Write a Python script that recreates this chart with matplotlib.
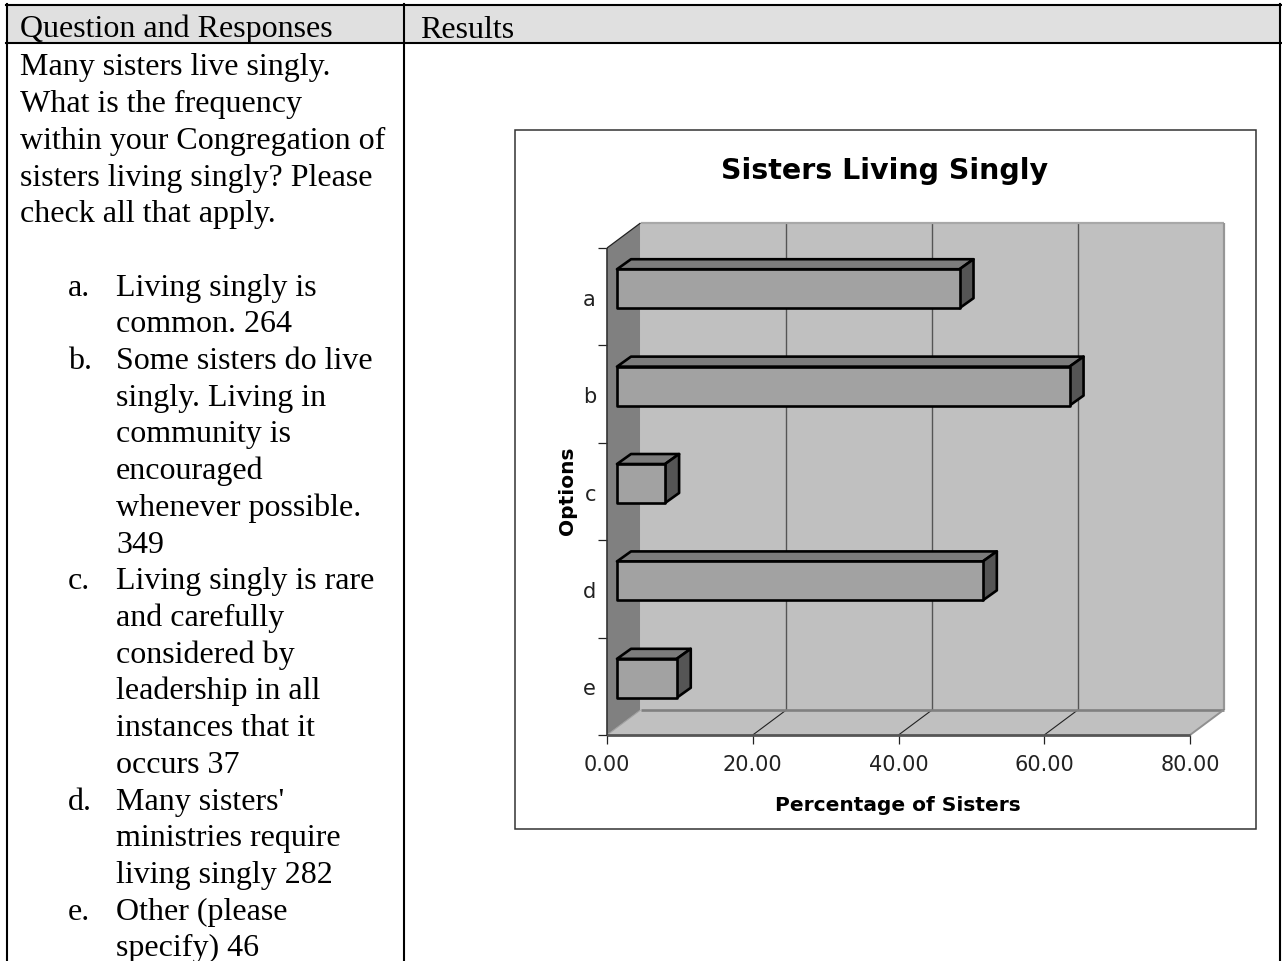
import matplotlib
matplotlib.use("Agg")
import matplotlib.pyplot as plt
from matplotlib.patches import Polygon, Rectangle
from matplotlib.lines import Line2D
from matplotlib.transforms import Affine2D, IdentityTransform

categories = ["a", "b", "c", "d", "e"]
values = [47.0, 62.1, 6.6, 50.2, 8.2]
x_ticks = [0, 20, 40, 60, 80]
x_tick_labels = ["0.00", "20.00", "40.00", "60.00", "80.00"]
title = "Sisters Living Singly"
xlabel = "Percentage of Sisters"
ylabel = "Options"
headers = ["Question and Responses", "Results"]
intro_lines = ["Many sisters live singly.", "What is the frequency",
               "within your Congregation of", "sisters living singly? Please",
               "check all that apply."]
responses = [("a.", ["Living singly is", "common. 264"]),
             ("b.", ["Some sisters do live", "singly. Living in", "community is",
                     "encouraged", "whenever possible.", "349"]),
             ("c.", ["Living singly is rare", "and carefully", "considered by",
                     "leadership in all", "instances that it", "occurs 37"]),
             ("d.", ["Many sisters'", "ministries require", "living singly 282"]),
             ("e.", ["Other (please", "specify) 46"])]

W, H = 1282, 962
fig = plt.figure(figsize=(W / 100, H / 100), dpi=100, facecolor="white")

def fx(x): return x / W
def fy(y): return 1 - y / H

def rect(x0, y0, x1, y1, **kw):
    fig.add_artist(Rectangle((fx(x0), fy(y1)), fx(x1 - x0), y1 / H - y0 / H,
                             transform=fig.transFigure, **kw))

def hline(x0, x1, y, c="black", lw=1.5):
    fig.add_artist(Line2D([fx(x0), fx(x1)], [fy(y), fy(y)], color=c, lw=lw))

def vline(x, y0, y1, c="black", lw=1.5):
    fig.add_artist(Line2D([fx(x), fx(x)], [fy(y0), fy(y1)], color=c, lw=lw))

# Table frame
rect(6, 6, 1280, 44, facecolor="#E0E0E0", edgecolor="none")
hline(5.5, 1281, 6)
hline(5.5, 1281, 44)
vline(6.5, 5, 962)
vline(404, 5, 962)
vline(1280, 5, 962)

serif = "Liberation Serif"
fs = 23
def para(x, y, s):
    fig.text(fx(x), fy(y), s, family=serif, fontsize=fs, color="black", va="baseline", ha="left")

para(20, 37.5, headers[0])
para(420, 37.5, headers[1])
line_h = 36.7
y = 75.5
for s in intro_lines:
    para(20, y, s)
    y += line_h
y += line_h
for mark, lines in responses:
    para(68, y, mark)
    for s in lines:
        para(116, y, s)
        y += line_h

# Chart box
rect(514.5, 130.5, 1256, 829.5, facecolor="white", edgecolor="#333333", lw=1.1)

# Chart axes: plot area of the front plane
L, R, T, B = 607, 1190, 249, 736
ax = fig.add_axes([fx(L), fy(B), (R - L) / W, (B - T) / H])
ax.set_zorder(5)
ax.set_xlim(0, 80)
ax.set_ylim(4.5, -0.5)
ax.autoscale(False)
ax.patch.set_visible(False)
for s in ("top", "right", "left", "bottom"):
    ax.spines[s].set_visible(False)

DX, DY = 33.5, 25     # depth of walls, display pixels
BDX, BDY = 14, 10     # depth of bars
SX, SY = 10, 8        # shift of bar front from the front plane

def disp(x, y, ox=0, oy=0):
    px, py = ax.transData.transform((x, y))
    return (px + ox, py + oy)

def poly(pts, **kw):
    p = Polygon(pts, closed=True, transform=IdentityTransform(), clip_on=False, **kw)
    ax.add_patch(p)

ymin, ymax = 4.5, -0.5
# back wall
poly([disp(0, ymin, DX, DY), disp(80, ymin, DX, DY), disp(80, ymax, DX, DY), disp(0, ymax, DX, DY)],
     facecolor="#C0C0C0", edgecolor="none", zorder=1)
# floor
poly([disp(0, ymin), disp(80, ymin), disp(80, ymin, DX, DY), disp(0, ymin, DX, DY)],
     facecolor="#C0C0C0", edgecolor="none", zorder=1)
# left wall
poly([disp(0, ymin), disp(0, ymax), disp(0, ymax, DX, DY), disp(0, ymin, DX, DY)],
     facecolor="#808080", edgecolor="none", zorder=1.1)

def seg(p, q, c, lw, z=1.5):
    ax.add_line(Line2D([p[0], q[0]], [p[1], q[1]], color=c, lw=lw,
                       transform=IdentityTransform(), clip_on=False, zorder=z,
                       solid_capstyle="butt"))

# grid on back wall and floor
for t in x_ticks[1:-1]:
    seg(disp(t, ymin, DX, DY), disp(t, ymax, DX, DY), "#555555", 1.0)
    seg(disp(t, ymin), disp(t, ymin, DX, DY), "#222222", 0.8)
# wall borders
seg(disp(0, ymax, DX, DY), disp(80, ymax, DX, DY), "#A8A8A8", 1.6)
seg(disp(80, ymax, DX, DY), disp(80, ymin, DX, DY), "#969696", 1.6)
seg(disp(0, ymin, DX, DY), disp(80, ymin, DX, DY), "#808080", 1.9)
seg(disp(80, ymin), disp(80, ymin, DX, DY), "#909090", 1.4)
seg(disp(0, ymin), disp(0, ymin, DX, DY), "#A0A0A0", 0.8)
seg(disp(0, ymax), disp(0, ymax, DX, DY), "#222222", 0.9)
seg(disp(0, ymin), disp(80, ymin), "#555555", 2.0, 1.6)
seg(disp(0, ymin), disp(0, ymax), "#333333", 1.2, 1.6)

# Bars with depth
bar_off = ax.transData + Affine2D().translate(SX, SY)
ypos = list(range(len(categories)))
bars = ax.barh(ypos, values, height=0.4, color="#A2A2A2", edgecolor="black", lw=1.9,
               transform=bar_off, zorder=3, clip_on=False)
for b in bars:
    b.set_joinstyle("round")
for yi, v in zip(ypos, values):
    t, u = yi - 0.2, yi + 0.2
    sx, sy = SX, SY
    poly([disp(0, t, sx, sy), disp(v, t, sx, sy),
          disp(v, t, sx + BDX, sy + BDY), disp(0, t, sx + BDX, sy + BDY)],
         facecolor="#7C7C7C", edgecolor="black", lw=1.9, zorder=2.5, joinstyle="round")
    poly([disp(v, t, sx, sy), disp(v, u, sx, sy),
          disp(v, u, sx + BDX, sy + BDY), disp(v, t, sx + BDX, sy + BDY)],
         facecolor="#555555", edgecolor="black", lw=1.9, zorder=2.5, joinstyle="round")

# Ticks and labels
sans = "DejaVu Sans"
ax.set_xticks(x_ticks)
ax.set_xticklabels(x_tick_labels, family=sans, fontsize=15, color="#222222")
ax.tick_params(axis="x", length=6.5, width=0.9, color="#222222", pad=7)
ax.set_yticks([i - 0.5 for i in range(len(categories) + 1)])
ax.set_yticklabels([])
ax.tick_params(axis="y", which="major", length=6.5, width=0.9, color="#222222")
ax.set_yticks(ypos, minor=True)
ax.set_yticklabels(categories, minor=True, family=sans, fontsize=15, color="#222222")
ax.tick_params(axis="y", which="minor", length=0, pad=8)

fig.text(fx(885), fy(171), title, family=sans, weight="bold", fontsize=20.5, ha="center", va="center", color="black")
fig.text(fx(898), fy(806), xlabel, family=sans, weight="bold", fontsize=14.5, ha="center", va="center", color="black")
fig.text(fx(567), fy(491), ylabel, family=sans, weight="bold", fontsize=14.5, ha="center", va="center",
         rotation=90, color="black")

fig.savefig("out.png", dpi=100, facecolor="white")
